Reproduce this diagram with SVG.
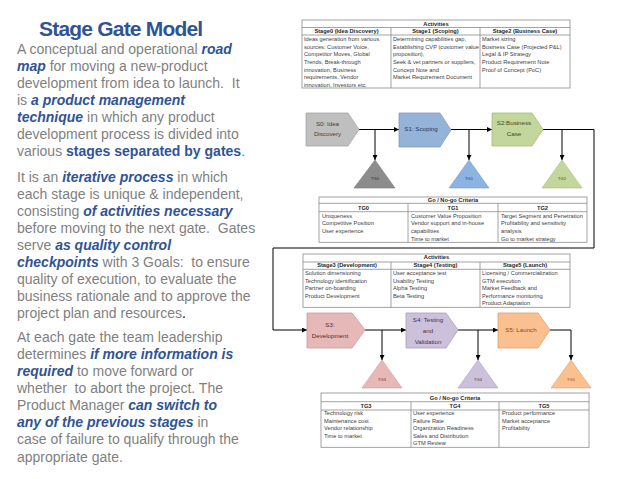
<svg xmlns="http://www.w3.org/2000/svg" width="638" height="479" viewBox="0 0 638 479">
<defs>
<marker id="ah" viewBox="0 0 6 6" refX="6" refY="3" markerWidth="5" markerHeight="5" orient="auto" markerUnits="userSpaceOnUse">
<path d="M0,0 L6,3 L0,6 z" fill="#000"/>
</marker>
<style>
.body{font-family:"Liberation Sans",Arial,sans-serif;font-size:14px;fill:#7f7f7f}
.em{font-weight:bold;font-style:italic;fill:#2f5496}
.b{font-weight:bold;fill:#2f5496}
.title{font-family:"Liberation Sans",Arial,sans-serif;font-size:21px;font-weight:bold;fill:#2f5496;letter-spacing:-0.8px}
.tb{fill:#fff;stroke:#8c8c8c;stroke-width:0.8}
.tl{stroke:#8c8c8c;stroke-width:0.8}
.tt{font-family:"Liberation Sans",Arial,sans-serif;font-size:5.7px;fill:#404040}
.th{font-family:"Liberation Sans",Arial,sans-serif;font-size:5.7px;fill:#262626;font-weight:bold;text-anchor:middle}
.lbl{font-family:"Liberation Sans",Arial,sans-serif;font-size:6.2px;text-anchor:middle}
.tg{font-family:"Liberation Sans",Arial,sans-serif;font-size:4px;text-anchor:middle}
.con{fill:none;stroke:#000;stroke-width:1}
</style>
</defs>

<g id="left-text">
<text class="title" x="39" y="36">Stage Gate Model</text>
<text class="body" xml:space="preserve">
<tspan x="17" y="54">A conceptual and operational <tspan class="em">road</tspan></tspan>
<tspan x="17" y="71"><tspan class="em">map</tspan> for moving a new-product</tspan>
<tspan x="17" y="88">development from idea to launch.  It</tspan>
<tspan x="17" y="105">is <tspan class="em">a product management</tspan></tspan>
<tspan x="17" y="122"><tspan class="em">technique</tspan> in which any product</tspan>
<tspan x="17" y="139">development process is divided into</tspan>
<tspan x="17" y="156">various <tspan class="b">stages separated by gates</tspan>.</tspan>
</text>
<text class="body" xml:space="preserve">
<tspan x="17" y="182">It is an <tspan class="em">iterative process</tspan> in which</tspan>
<tspan x="17" y="199">each stage is unique &amp; independent,</tspan>
<tspan x="17" y="216">consisting <tspan class="em">of activities necessary</tspan></tspan>
<tspan x="17" y="233">before moving to the next gate.  Gates</tspan>
<tspan x="17" y="250">serve <tspan class="em">as quality control</tspan></tspan>
<tspan x="17" y="267"><tspan class="em">checkpoints</tspan> with 3 Goals:  to ensure</tspan>
<tspan x="17" y="284">quality of execution, to evaluate the</tspan>
<tspan x="17" y="301">business rationale and to approve the</tspan>
<tspan x="17" y="318">project plan and resources<tspan fill="#000">.</tspan></tspan>
</text>
<text class="body" xml:space="preserve">
<tspan x="17" y="342">At each gate the team leadership</tspan>
<tspan x="17" y="359">determines <tspan class="em">if more information is</tspan></tspan>
<tspan x="17" y="376"><tspan class="em">required</tspan> to move forward or</tspan>
<tspan x="17" y="393">whether  to abort the project. The</tspan>
<tspan x="17" y="410">Product Manager <tspan class="em">can switch to</tspan></tspan>
<tspan x="17" y="427"><tspan class="em">any of the previous stages</tspan> in</tspan>
<tspan x="17" y="444">case of failure to qualify through the</tspan>
<tspan x="17" y="462">appropriate gate.</tspan>
</text>
</g>

<g id="activities-1">
<rect class="tb" x="302" y="20" width="268" height="68"/>
<line class="tl" x1="302" y1="27.5" x2="570" y2="27.5"/>
<line class="tl" x1="302" y1="35" x2="570" y2="35"/>
<line class="tl" x1="391" y1="27.5" x2="391" y2="88"/>
<line class="tl" x1="480" y1="27.5" x2="480" y2="88"/>
<text class="th" x="436" y="26">Activities</text>
<text class="th" x="346.5" y="33.2">Stage0 (Idea Discovery)</text>
<text class="th" x="435.5" y="33.2">Stage1 (Scoping)</text>
<text class="th" x="525" y="33.2">Stage2 (Business Case)</text>
<text class="tt">
<tspan x="304" y="41">Ideas generation from various</tspan>
<tspan x="304" y="48.6">sources: Customer Voice,</tspan>
<tspan x="304" y="56.3">Competitor Moves, Global</tspan>
<tspan x="304" y="63.9">Trends, Break-through</tspan>
<tspan x="304" y="71.6">innovation, Business</tspan>
<tspan x="304" y="79.2">requirements, Vendor</tspan>
<tspan x="304" y="86.9">innovation, Investors etc.</tspan>
</text>
<text class="tt">
<tspan x="393" y="41">Determining capabilities gap,</tspan>
<tspan x="393" y="48.6">Establishing CVP (customer value</tspan>
<tspan x="393" y="56.3">proposition),</tspan>
<tspan x="393" y="63.9">Seek &amp; vet partners or suppliers,</tspan>
<tspan x="393" y="71.6">Concept Note and</tspan>
<tspan x="393" y="79.2">Market Requirement Document</tspan>
</text>
<text class="tt">
<tspan x="482" y="41">Market sizing</tspan>
<tspan x="482" y="48.6">Business Case (Projected P&amp;L)</tspan>
<tspan x="482" y="56.3">Legal &amp; IP Strategy</tspan>
<tspan x="482" y="63.9">Product Requirement Note</tspan>
<tspan x="482" y="71.6">Proof of Concept (PoC)</tspan>
</text>
</g>

<g id="criteria-1">
<rect class="tb" x="319" y="197" width="268" height="45.3"/>
<line class="tl" x1="319" y1="203.3" x2="587" y2="203.3"/>
<line class="tl" x1="319" y1="211.7" x2="587" y2="211.7"/>
<line class="tl" x1="408" y1="203.3" x2="408" y2="242.3"/>
<line class="tl" x1="498" y1="203.3" x2="498" y2="242.3"/>
<text class="th" x="453" y="202" font-weight="normal">Go / No-go Criteria</text>
<text class="th" x="363.5" y="209.5" font-weight="normal">TG0</text>
<text class="th" x="453" y="209.5" font-weight="normal">TG1</text>
<text class="th" x="542.5" y="209.5" font-weight="normal">TG2</text>
<text class="tt">
<tspan x="322" y="217.7">Uniqueness</tspan>
<tspan x="322" y="225.3">Competitive Position</tspan>
<tspan x="322" y="233">User experience</tspan>
</text>
<text class="tt">
<tspan x="411" y="217.7">Customer Value Proposition</tspan>
<tspan x="411" y="225.3">Vendor support and in-house</tspan>
<tspan x="411" y="233">capabilities</tspan>
<tspan x="411" y="240.5">Time to market</tspan>
</text>
<text class="tt">
<tspan x="501" y="217.7">Target Segment and Penetration</tspan>
<tspan x="501" y="225.3">Profitability and sensitivity</tspan>
<tspan x="501" y="233">analysis</tspan>
<tspan x="501" y="240.5">Go to market strategy</tspan>
</text>
</g>

<g id="activities-2">
<rect class="tb" x="303" y="254" width="267" height="53.3"/>
<line class="tl" x1="303" y1="262" x2="570" y2="262"/>
<line class="tl" x1="303" y1="269.3" x2="570" y2="269.3"/>
<line class="tl" x1="391" y1="262" x2="391" y2="307.3"/>
<line class="tl" x1="480" y1="262" x2="480" y2="307.3"/>
<text class="th" x="436.5" y="259.4">Activities</text>
<text class="th" x="347" y="267.2">Stage3 (Development)</text>
<text class="th" x="435.5" y="267.2">Stage4 (Testing)</text>
<text class="th" x="525" y="267.2">Stage5 (Launch)</text>
<text class="tt">
<tspan x="305" y="275.3">Solution dimensioning</tspan>
<tspan x="305" y="282.7">Technology identification</tspan>
<tspan x="305" y="290.3">Partner on-boarding</tspan>
<tspan x="305" y="297.7">Product Development</tspan>
</text>
<text class="tt">
<tspan x="393" y="275.3">User acceptance test</tspan>
<tspan x="393" y="282.7">Usability Testing</tspan>
<tspan x="393" y="290.3">Alpha Testing</tspan>
<tspan x="393" y="297.7">Beta Testing</tspan>
</text>
<text class="tt">
<tspan x="482" y="275.3">Licensing / Commercialization</tspan>
<tspan x="482" y="282.7">GTM execution</tspan>
<tspan x="482" y="290.3">Market Feedback and</tspan>
<tspan x="482" y="297.7">Performance monitoring</tspan>
<tspan x="482" y="305.3">Product Adaptation</tspan>
</text>
</g>

<g id="criteria-2">
<rect class="tb" x="321" y="393" width="268" height="54.3"/>
<line class="tl" x1="321" y1="401.7" x2="589" y2="401.7"/>
<line class="tl" x1="321" y1="410" x2="589" y2="410"/>
<line class="tl" x1="411" y1="401.7" x2="411" y2="447.3"/>
<line class="tl" x1="499" y1="401.7" x2="499" y2="447.3"/>
<text class="th" x="455" y="399.7" font-weight="normal">Go / No-go Criteria</text>
<text class="th" x="366" y="407.9" font-weight="normal">TG3</text>
<text class="th" x="455" y="407.9" font-weight="normal">TG4</text>
<text class="th" x="544" y="407.9" font-weight="normal">TG5</text>
<text class="tt">
<tspan x="324" y="414.7">Technology risk</tspan>
<tspan x="324" y="422.7">Maintenance cost</tspan>
<tspan x="324" y="430.3">Vendor relationship</tspan>
<tspan x="324" y="438">Time to market</tspan>
</text>
<text class="tt">
<tspan x="413" y="414.7">User experience</tspan>
<tspan x="413" y="422.7">Failure Rate</tspan>
<tspan x="413" y="430.3">Organization Readiness</tspan>
<tspan x="413" y="438">Sales and Distribution</tspan>
<tspan x="413" y="445.3">GTM Review</tspan>
</text>
<text class="tt">
<tspan x="502" y="414.7">Product performance</tspan>
<tspan x="502" y="422.7">Market acceptance</tspan>
<tspan x="502" y="430.3">Profitability</tspan>
</text>
</g>

<g id="connectors">
<line class="con" x1="359" y1="129.5" x2="399" y2="129.5" marker-end="url(#ah)"/>
<line class="con" x1="375" y1="129.5" x2="375" y2="160" marker-end="url(#ah)"/>
<line class="con" x1="451" y1="129.5" x2="492" y2="129.5" marker-end="url(#ah)"/>
<line class="con" x1="469" y1="129.5" x2="469" y2="160" marker-end="url(#ah)"/>
<polyline class="con" points="543,129.5 594,129.5 594,248 273,248 273,330 307,330" marker-end="url(#ah)"/>
<line class="con" x1="562" y1="129.5" x2="562" y2="160" marker-end="url(#ah)"/>
<line class="con" x1="365" y1="330" x2="406" y2="330" marker-end="url(#ah)"/>
<line class="con" x1="382" y1="330" x2="382" y2="360" marker-end="url(#ah)"/>
<line class="con" x1="458" y1="330" x2="498" y2="330" marker-end="url(#ah)"/>
<line class="con" x1="478" y1="330" x2="478" y2="360" marker-end="url(#ah)"/>
<polyline class="con" points="550,330 571,330 571,360" marker-end="url(#ah)"/>
</g>

<g id="S0">
<polygon points="306,113 348,113 359,129.5 348,146 306,146" fill="#bfbfbf" stroke="#a6a6a6" stroke-width="0.8"/>
<text class="lbl" fill="#404040" x="327.5" y="125.5">S0: Idea</text>
<text class="lbl" fill="#404040" x="327.5" y="136">Discovery</text>
</g>
<g id="S1">
<polygon points="399,113 440,113 451,130 440,147 399,147" fill="#95b3d7" stroke="#7f9cc2" stroke-width="0.8"/>
<text class="lbl" fill="#1f3864" x="421" y="130.5">S1: Scoping</text>
</g>
<g id="S2">
<polygon points="492,113 532,113 543,129.5 532,146 492,146" fill="#c3d69b" stroke="#a7bd7a" stroke-width="0.8"/>
<text class="lbl" fill="#3b4a1e" x="514" y="125">S2:Business</text>
<text class="lbl" fill="#3b4a1e" x="514" y="136">Case</text>
</g>
<g id="TG0">
<polygon points="375,160 395,188 354,188" fill="#8c8c8c" stroke="#7a7a7a" stroke-width="0.6"/>
<text class="tg" fill="#262626" x="375" y="180">TG0</text>
</g>
<g id="TG1">
<polygon points="469,160 489,188 449,188" fill="#8db3e2" stroke="#7a9cc6" stroke-width="0.6"/>
<text class="tg" fill="#1f3864" x="469" y="180">TG1</text>
</g>
<g id="TG2">
<polygon points="562,160 582,188 542,188" fill="#c3d69b" stroke="#a7bd7a" stroke-width="0.6"/>
<text class="tg" fill="#3b4a1e" x="562" y="180">TG2</text>
</g>

<g id="S3">
<polygon points="307,313 352,313 365,330 352,348 307,348" fill="#e6b9b8" stroke="#c99a99" stroke-width="0.8"/>
<text class="lbl" fill="#632523" x="330" y="327">S3:</text>
<text class="lbl" fill="#632523" x="330" y="338">Development</text>
</g>
<g id="S4">
<polygon points="406,313 446,313 458,330 446,348 406,348" fill="#ccc1da" stroke="#ab9cc0" stroke-width="0.8"/>
<text class="lbl" fill="#3f3151" x="428" y="322">S4: Testing</text>
<text class="lbl" fill="#3f3151" x="428" y="333">and</text>
<text class="lbl" fill="#3f3151" x="428" y="344">Validation</text>
</g>
<g id="S5">
<polygon points="498,313 538,313 550,330 538,348 498,348" fill="#fac090" stroke="#e0a06c" stroke-width="0.8"/>
<text class="lbl" fill="#974806" x="521" y="332">S5: Launch</text>
</g>
<g id="TG3">
<polygon points="382,360 402,388 362,388" fill="#e6b9b8" stroke="#c99a99" stroke-width="0.6"/>
<text class="tg" fill="#632523" x="382" y="381">TG3</text>
</g>
<g id="TG4">
<polygon points="478,360 498,388 458,388" fill="#ccc1da" stroke="#ab9cc0" stroke-width="0.6"/>
<text class="tg" fill="#3f3151" x="478" y="381">TG4</text>
</g>
<g id="TG5">
<polygon points="571,360 591,388 551,388" fill="#fac090" stroke="#e0a06c" stroke-width="0.6"/>
<text class="tg" fill="#974806" x="571" y="381">TG5</text>
</g>
</svg>
